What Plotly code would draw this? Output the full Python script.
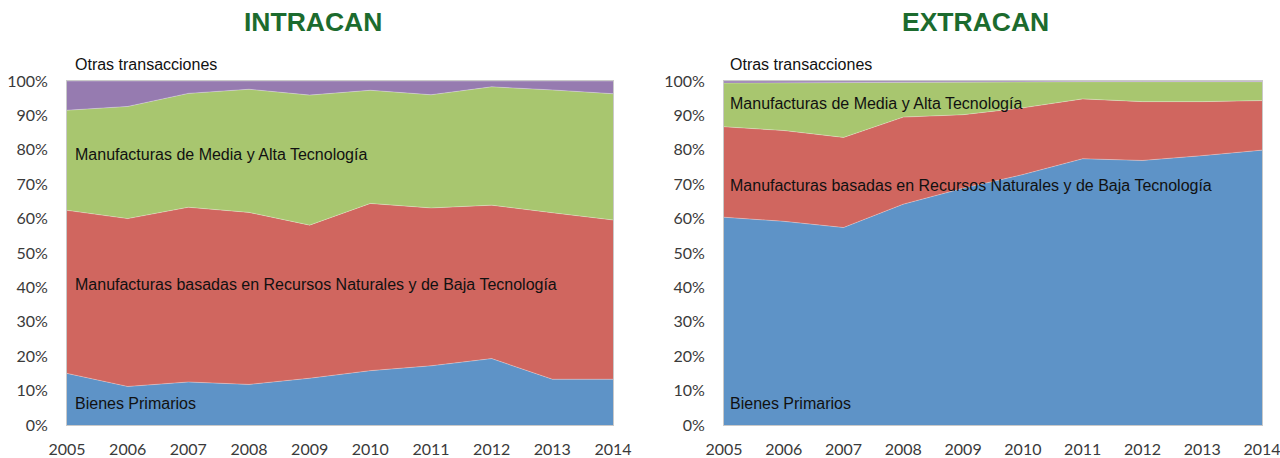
import plotly.graph_objects as go

years = [2005, 2006, 2007, 2008, 2009, 2010, 2011, 2012, 2013, 2014]
series_names = ["Bienes Primarios",
                "Manufacturas basadas en Recursos Naturales y de Baja Tecnología",
                "Manufacturas de Media y Alta Tecnología",
                "Otras transacciones"]

# INTRACAN shares (%)
intra_primarios = [15.0, 11.2, 12.5, 11.8, 13.6, 15.8, 17.2, 19.3, 13.3, 13.3]
intra_rrnn_baja = [47.4, 48.8, 50.8, 50.0, 44.5, 48.6, 45.9, 44.6, 48.4, 46.3]
intra_media_alta = [29.1, 32.6, 33.1, 35.8, 37.8, 32.9, 32.9, 34.4, 35.7, 36.7]
intra_otras = [8.5, 7.4, 3.6, 2.4, 4.1, 2.7, 4.0, 1.7, 2.6, 3.7]

# EXTRACAN shares (%)
extra_primarios = [60.4, 59.2, 57.4, 64.2, 68.8, 72.8, 77.4, 76.9, 78.3, 79.9]
extra_rrnn_baja = [26.3, 26.4, 26.2, 25.3, 21.4, 19.4, 17.4, 17.1, 15.7, 14.4]
extra_media_alta = [12.7, 13.9, 16.0, 10.2, 9.5, 7.6, 5.0, 5.8, 5.8, 5.5]
extra_otras = [0.6, 0.5, 0.4, 0.3, 0.3, 0.2, 0.2, 0.2, 0.2, 0.2]

colors = ["#5E93C7", "#D0665F", "#A8C66F", "#967BB0"]

W, H = 1280, 458
fig = go.Figure()

panels = [
    ("x", "y", "intra", [intra_primarios, intra_rrnn_baja, intra_media_alta, intra_otras]),
    ("x2", "y2", "extra", [extra_primarios, extra_rrnn_baja, extra_media_alta, extra_otras]),
]
for xa, ya, grp, data in panels:
    for name, vals, col in zip(series_names, data, colors):
        fig.add_trace(go.Scatter(
            x=years, y=vals, name=name, xaxis=xa, yaxis=ya,
            stackgroup=grp, mode="lines",
            line=dict(width=0.6, color="rgba(255,255,255,0.5)"),
            fillcolor=col, showlegend=False, hoverinfo="skip"))

def px_x(v):
    return v / W

def px_y(v):
    return 1 - v / H

tick_font = dict(family="Lato, Open Sans, sans-serif", size=16, color="#3a3a3a")
ydom = [px_y(425), px_y(81)]
common_x = dict(range=[2005, 2014], tickvals=years, ticktext=[str(y) for y in years],
                showgrid=False, zeroline=False, showline=True, linecolor="#c9c9c9",
                linewidth=1, mirror=True, ticks="", tickfont=tick_font,
                ticklabelstandoff=10, fixedrange=True, automargin=False,
                ticklabeloverflow="allow")
common_y = dict(range=[0, 100], dtick=10, ticksuffix="%", showgrid=False,
                zeroline=False, showline=True, linecolor="#c9c9c9", linewidth=1,
                mirror=True, ticks="", tickfont=tick_font, ticklabelstandoff=15,
                fixedrange=True, automargin=False)

fig.update_layout(
    width=W, height=H,
    margin=dict(l=0, r=0, t=0, b=0),
    paper_bgcolor="white", plot_bgcolor="white",
    hovermode=False,
    xaxis=dict(domain=[px_x(67), px_x(613)], anchor="y", **common_x),
    yaxis=dict(domain=ydom, anchor="x", **common_y),
    xaxis2=dict(domain=[px_x(724), px_x(1262)], anchor="y2", **common_x),
    yaxis2=dict(domain=ydom, anchor="x2", **common_y),
)

title_font = dict(family="Liberation Sans, Arial, sans-serif", size=26.5, color="#1C6B2E")
fig.add_annotation(text="<b>INTRACAN</b>", x=px_x(313), y=px_y(22), xref="paper", yref="paper",
                   showarrow=False, font=title_font, xanchor="center", yanchor="middle")
fig.add_annotation(text="<b>EXTRACAN</b>", x=px_x(975), y=px_y(22), xref="paper", yref="paper",
                   showarrow=False, font=title_font, xanchor="center", yanchor="middle")

lab_font = dict(family="Liberation Sans, Arial, sans-serif", size=16, color="#111111")
labels = [
    (73, 64, "Otras transacciones"),
    (73, 154, "Manufacturas de Media y Alta Tecnología"),
    (73, 284, "Manufacturas basadas en Recursos Naturales y de Baja Tecnología"),
    (73, 403, "Bienes Primarios"),
    (728, 64, "Otras transacciones"),
    (728, 104, "Manufacturas de Media y Alta Tecnología"),
    (728, 186, "Manufacturas basadas en Recursos Naturales y de Baja Tecnología"),
    (728, 403, "Bienes Primarios"),
]
for lx, ly, txt in labels:
    fig.add_annotation(text=txt, x=px_x(lx), y=px_y(ly), xref="paper", yref="paper",
                       showarrow=False, font=lab_font, xanchor="left", yanchor="middle")

# remove the page's default body margin so the figure fills the window exactly
fig.write_html("out.html", config={"displayModeBar": False},
               post_script="document.body.style.margin='0';document.body.style.overflow='hidden';")
